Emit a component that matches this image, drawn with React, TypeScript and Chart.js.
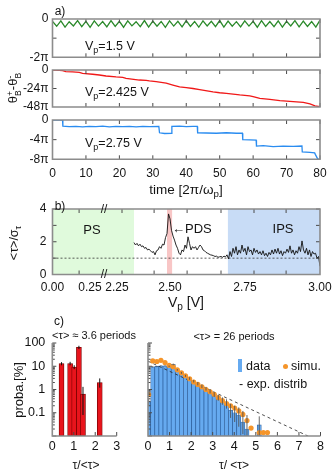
import React, { useEffect, useRef } from 'react';
import { Chart, registerables } from 'chart.js';

Chart.register(...registerables);

const W = 333;
const H = 473;
const SANS = '"Liberation Sans", Arial, Helvetica, sans-serif';
const FRAME_COLOR = '#8c8c8c';
const TICK_COLOR = '#4a4a4a';
const INK = '#141414';

// ---------------- panel a : phase difference (units of pi) ----------------
const timeTicks = [0, 10, 20, 30, 40, 50, 60, 70, 80];
const greenTime = [0, 1.25, 2.5, 3.75, 5, 6.25, 7.5, 8.75, 10, 11.25, 12.5, 13.75, 15, 16.25, 17.5, 18.75, 20, 21.25, 22.5, 23.75, 25, 26.25, 27.5, 28.75, 30, 31.25, 32.5, 33.75, 35, 36.25, 37.5, 38.75, 40, 41.25, 42.5, 43.75, 45, 46.25, 47.5, 48.75, 50, 51.25, 52.5, 53.75, 55, 56.25, 57.5, 58.75, 60, 61.25, 62.5, 63.75, 65, 66.25, 67.5, 68.75, 70, 71.25, 72.5, 73.75, 75, 76.25, 77.5, 78.75, 80];
const greenPhase = [-0.12, -0.38, -0.10, -0.42, -0.14, -0.36, -0.08, -0.40, -0.12, -0.44,
  -0.10, -0.37, -0.13, -0.41, -0.09, -0.39, -0.12, -0.43, -0.10, -0.36,
  -0.14, -0.40, -0.08, -0.42, -0.11, -0.38, -0.13, -0.44, -0.10, -0.37,
  -0.12, -0.41, -0.09, -0.39, -0.13, -0.43, -0.10, -0.36, -0.12, -0.40,
  -0.08, -0.42, -0.11, -0.38, -0.14, -0.41, -0.10, -0.37, -0.12, -0.43,
  -0.09, -0.39, -0.13, -0.40, -0.10, -0.42, -0.12, -0.36, -0.08, -0.41,
  -0.11, -0.39, -0.13, -0.42, -0.06];
const redTime = [0, 2, 3, 4, 6, 8, 9, 12, 14, 16, 19, 21, 22, 26, 28, 29, 31, 34, 36, 38, 40, 42, 44, 48, 50, 52, 56, 59, 60, 62, 65, 68, 70, 72, 75, 77, 78.5, 80];
const redPhase = [0, -0.3, -0.8, -2, -2.5, -3, -4.3, -5.5, -6.5, -7.8, -9, -9.5, -10.8, -13, -13.5, -14.2, -15.2, -17, -19.5, -22, -23, -24, -25.5, -28.5, -29.5, -30.3, -32.4, -33.5, -34.5, -36.8, -38, -39.8, -40.3, -41, -42, -44, -46.5, -47.6];
const blueTime = [0, 3, 3.1, 5, 7, 9, 11, 13, 15, 17, 19, 21, 23, 25, 27, 29, 31.8, 32, 33.5, 35.6, 35.7, 38, 40, 42, 43.3, 43.4, 46, 49, 52, 55, 56.8, 56.9, 59, 60.9, 61, 63, 66, 69, 72, 74.6, 74.7, 77, 78.4, 78.6, 79.3, 80];
const bluePhase = [0, 0, -1.25, -1.35, -1.3, -1.4, -1.3, -1.35, -1.25, -1.4, -1.3, -1.35, -1.3, -1.4, -1.3, -1.35, -1.3, -2.6, -2.75, -2.7, -1.3, -1.25, -1.35, -1.3, -1.3, -2.6, -2.65, -2.7, -2.6, -2.7, -2.7, -4.0, -4.05, -4.1, -5.3, -5.2, -5.4, -5.3, -5.35, -5.3, -6.5, -6.6, -6.7, -7.0, -7.9, -8.0];

// ---------------- panel b : <tau>/sigma vs Vp ----------------
const vpTrace = [2.380, 2.385, 2.390, 2.395, 2.400, 2.405, 2.410, 2.415, 2.420, 2.425,
  2.430, 2.435, 2.440, 2.445, 2.450, 2.455, 2.460, 2.465, 2.470, 2.475,
  2.480, 2.485, 2.490, 2.495, 2.500, 2.505, 2.510, 2.515, 2.520, 2.525,
  2.530, 2.535, 2.540, 2.545, 2.550, 2.555, 2.560, 2.565, 2.570, 2.575,
  2.580, 2.585, 2.590, 2.595, 2.600, 2.605, 2.610, 2.615, 2.620, 2.625,
  2.630, 2.635, 2.640, 2.645, 2.650, 2.655, 2.660, 2.665, 2.670, 2.675,
  2.680, 2.685, 2.690, 2.695, 2.700, 2.705, 2.710, 2.715, 2.720, 2.725,
  2.730, 2.735, 2.740, 2.745, 2.750, 2.755, 2.760, 2.765, 2.770, 2.775,
  2.780, 2.785, 2.790, 2.795, 2.800, 2.805, 2.810, 2.815, 2.820, 2.825,
  2.830, 2.835, 2.840, 2.845, 2.850, 2.855, 2.860, 2.865, 2.870, 2.875,
  2.880, 2.885, 2.890, 2.895, 2.900, 2.905, 2.910, 2.915, 2.920, 2.925,
  2.930, 2.935, 2.940, 2.945, 2.950, 2.955, 2.960, 2.965, 2.970, 2.975,
  2.980, 2.985, 2.990, 2.995, 3.000];
const ratioTrace = [1.95, 1.80, 1.90, 1.75, 1.85, 1.70, 1.75, 1.60, 1.65, 1.50,
  1.55, 1.45, 1.35, 1.40, 1.20, 1.45, 1.50, 1.70, 1.60, 1.85,
  1.80, 2.25, 2.50, 3.70, 3.40, 2.70, 2.35, 2.10, 1.80, 1.60,
  1.30, 1.20, 1.50, 1.40, 1.80, 1.60, 2.30, 1.90, 1.50, 1.70,
  1.60, 1.70, 1.50, 1.65, 1.80, 1.70, 1.50, 1.45, 1.35, 1.30,
  1.25, 1.20, 1.18, 1.15, 1.10, 1.12, 1.05, 1.08, 1.10, 1.05,
  1.12, 1.08, 1.20, 0.95, 1.40,
  1.10, 1.60, 1.30, 1.70, 1.20, 1.50, 1.30, 1.80, 1.40, 1.60,
  1.20, 1.70, 1.40, 1.50, 1.20, 1.60, 1.35, 1.50, 1.25, 1.40,
  1.20, 1.45, 1.15, 1.30, 1.10, 1.35, 1.20, 1.50, 1.25, 1.55,
  1.30, 1.60, 1.25, 1.45, 1.15, 1.40, 1.30, 1.55, 1.35, 1.75,
  1.30, 1.50, 1.20, 1.45, 1.30, 1.70, 1.40, 2.05, 1.50, 1.30,
  1.60, 1.20, 1.50, 1.10, 1.40, 1.25, 1.30, 1.00, 1.10, 0.50];
const vpAxisMin = 2.1083;
const psRange = [2.1083, 2.38];
const pdsRange = [2.49, 2.507];
const ipsRange = [2.693, 3.0];
const vpLabelPos = [2.1083, 2.2333, 2.3233, 2.5, 2.75, 3.0];
const vpLabelText = ['0.00', '0.25', '2.25', '2.50', '2.75', '3.00'];
const vpTickPos = [2.197, 2.34, 2.447, 2.557, 2.67, 2.78, 2.887];
const ratioTicks = [0, 1, 2, 3, 4];
const ratioLabels = [0, 2, 4];

// ---------------- panel c : histograms ----------------
const redTau = [0.43, 0.83, 1.02, 1.24, 1.43, 2.21];
const redProba = [13, 13, 9.3, 65, 0.64, 2.0];
const redErrLo = [11, 11, 7.5, 55, 0.08, 1.2];
const redErrHi = [15, 15.5, 11, 76, 1.3, 3.0];

const binTau = [0.03, 0.22, 0.41, 0.60, 0.79, 0.98, 1.17, 1.36, 1.55, 1.74, 1.93, 2.12, 2.31, 2.50, 2.69, 2.88, 3.07, 3.26, 3.45, 3.64, 3.83, 4.02, 4.21, 4.40, 4.59, 4.78, 4.97, 5.16, 5.35, 5.54];
const dataProba = [0.3, 9.5, 9.8, 10.5, 10.5, 10, 12, 7, 5.2, 3.9, 3.0, 2.3, 1.8, 1.4, 1.1, 0.85, 0.62, 0.45, 0.33, 0.25, 0.13, 0.1, 0.08, 0.04, 0.02, null, null, 0.03, null, null];
const dataErrLo = [0.2, 8.8, 9.1, 9.8, 9.8, 9.3, 11, 6.4, 4.7, 3.5, 2.6, 2.0, 1.5, 1.15, 0.9, 0.68, 0.48, 0.33, 0.22, 0.15, 0.06, 0.04, 0.025, 0.012, 0.01, null, null, 0.01, null, null];
const dataErrHi = [0.4, 10.2, 10.5, 11.2, 11.2, 10.7, 13, 7.6, 5.7, 4.3, 3.4, 2.6, 2.1, 1.65, 1.3, 1.05, 0.78, 0.6, 0.46, 0.38, 0.24, 0.2, 0.17, 0.12, 0.08, null, null, 0.07, null, null];
const simuProba = [0.6, 17, 16, 18, 14.5, 11, 9.5, 7, 5.2, 3.9, 2.9, 2.1, 1.65, 1.3, 1.0, 0.8, 0.62, 0.45, 0.33, 0.25, 0.2, 0.16, 0.12, 0.085, 0.046, 0.022, null, 0.014, 0.014, 0.014];
const expTau = [0, 7.5];
const expProba = [16.5, 0.0092];
const probaMin = 0.01;
const probaMax = 100;
const probaMajor = [0.01, 0.1, 1, 10, 100];
const probaLabels = [{ v: 100, t: '100' }, { v: 10, t: '10' }, { v: 1, t: '1' }, { v: 0.1, t: '0.1' }];

const probaMinor: number[] = [];
for (const d of [0.01, 0.1, 1, 10]) for (let k = 2; k <= 9; k++) probaMinor.push(d * k);

// ---------------- helpers ----------------
type Area = { l: number; r: number; t: number; b: number };

interface FrameCfg {
  box: boolean;
  xTicks?: number[];
  yTicks?: number[];
  yMinor?: number[];
  xLabels?: { v: number; t: string }[];
  yLabels?: { v: number; t: string }[];
  xLabelDy?: number;
  yLabelDx?: number;
  labelFont?: string;
  regions?: { from: number; to: number; color: string }[];
  refY?: number;
  errors?: { x: number[]; lo: (number | null)[]; hi: (number | null)[]; color: string; width: number }[];
}

function framePlugin(cfg: FrameCfg) {
  return {
    id: 'frame',
    beforeDatasetsDraw(chart: any) {
      const { ctx, chartArea: a, scales } = chart;
      const xs = scales.x, ys = scales.y;
      ctx.save();
      for (const r of cfg.regions || []) {
        const x0 = xs.getPixelForValue(r.from), x1 = xs.getPixelForValue(r.to);
        ctx.fillStyle = r.color;
        ctx.fillRect(x0, a.top, x1 - x0, a.bottom - a.top);
      }
      if (cfg.refY !== undefined) {
        const py = ys.getPixelForValue(cfg.refY);
        ctx.strokeStyle = '#333';
        ctx.lineWidth = 0.8;
        ctx.setLineDash([2, 2]);
        ctx.beginPath();
        ctx.moveTo(a.left, py);
        ctx.lineTo(a.right, py);
        ctx.stroke();
      }
      ctx.restore();
    },
    afterDatasetsDraw(chart: any) {
      const { ctx, chartArea: a, scales } = chart;
      const xs = scales.x, ys = scales.y;
      ctx.save();
      // error bars
      for (const e of cfg.errors || []) {
        ctx.strokeStyle = e.color;
        ctx.lineWidth = e.width;
        ctx.beginPath();
        e.x.forEach((xv, i) => {
          const lo = e.lo[i], hi = e.hi[i];
          if (lo == null || hi == null) return;
          const px = xs.getPixelForValue(xv);
          ctx.moveTo(px, ys.getPixelForValue(lo));
          ctx.lineTo(px, ys.getPixelForValue(hi));
        });
        ctx.stroke();
      }
      // ticks
      const L = 4;
      ctx.strokeStyle = TICK_COLOR;
      ctx.lineWidth = 1;
      ctx.beginPath();
      for (const v of cfg.xTicks || []) {
        const px = xs.getPixelForValue(v);
        ctx.moveTo(px, a.bottom);
        ctx.lineTo(px, a.bottom - L);
        if (cfg.box) {
          ctx.moveTo(px, a.top);
          ctx.lineTo(px, a.top + L);
        }
      }
      for (const v of cfg.yTicks || []) {
        const py = ys.getPixelForValue(v);
        ctx.moveTo(a.left, py);
        ctx.lineTo(a.left + L, py);
        if (cfg.box) {
          ctx.moveTo(a.right, py);
          ctx.lineTo(a.right - L, py);
        }
      }
      for (const v of cfg.yMinor || []) {
        const py = ys.getPixelForValue(v);
        ctx.moveTo(a.left, py);
        ctx.lineTo(a.left + 2.5, py);
      }
      ctx.stroke();
      // frame
      ctx.strokeStyle = FRAME_COLOR;
      ctx.lineWidth = 1.6;
      ctx.beginPath();
      if (cfg.box) {
        ctx.rect(a.left, a.top, a.right - a.left, a.bottom - a.top);
      } else {
        ctx.moveTo(a.left, a.top);
        ctx.lineTo(a.left, a.bottom);
        ctx.lineTo(a.right, a.bottom);
      }
      ctx.stroke();
      // labels
      ctx.fillStyle = INK;
      ctx.font = cfg.labelFont || `11.5px ${SANS}`;
      ctx.textBaseline = 'middle';
      ctx.textAlign = 'center';
      for (const l of cfg.xLabels || []) {
        ctx.fillText(l.t, xs.getPixelForValue(l.v), a.bottom + (cfg.xLabelDy ?? 13));
      }
      ctx.textAlign = 'right';
      for (const l of cfg.yLabels || []) {
        ctx.fillText(l.t, a.left - (cfg.yLabelDx ?? 4), ys.getPixelForValue(l.v));
      }
      ctx.restore();
    },
  };
}

function baseOptions(area: Area, xMin: number, xMax: number, yMin: number, yMax: number, yType = 'linear') {
  return {
    responsive: false,
    maintainAspectRatio: false,
    animation: false,
    events: [],
    layout: { padding: { left: area.l, top: area.t, right: W - area.r, bottom: H - area.b } },
    plugins: { legend: { display: false }, tooltip: { enabled: false }, title: { display: false } },
    scales: {
      x: { type: 'linear', display: false, min: xMin, max: xMax, offset: false },
      y: { type: yType, display: false, min: yMin, max: yMax },
    },
  };
}

const pts = (xs: number[], ys: (number | null)[]) =>
  xs.map((x, i) => ({ x, y: ys[i] })).filter((p) => p.y !== null && p.y !== undefined);

function ChartLayer({ make }: { make: () => any }) {
  const ref = useRef<HTMLCanvasElement | null>(null);
  useEffect(() => {
    const chart = new Chart(ref.current as HTMLCanvasElement, make());
    return () => chart.destroy();
  }, []);
  return (
    <canvas
      ref={ref}
      width={W}
      height={H}
      style={{ position: 'absolute', left: 0, top: 0, width: W, height: H }}
    />
  );
}

const xL = 52.5, xR = 320;

function phasePanel(area: Area, time: number[], phase: number[], color: string, yMin: number, yTicks: number[], yLabels: { v: number; t: string }[], withX: boolean) {
  return () => ({
    type: 'line',
    data: {
      datasets: [{
        data: pts(time, phase),
        borderColor: color,
        borderWidth: 1.3,
        pointRadius: 0,
        tension: 0,
      }],
    },
    options: baseOptions(area, 0, 80, yMin, 0),
    plugins: [framePlugin({
      box: true,
      xTicks: timeTicks,
      yTicks,
      yLabels,
      yLabelDx: 4,
      xLabels: withX ? timeTicks.map((v) => ({ v, t: String(v) })) : [],
      xLabelDy: 14,
      labelFont: `12px ${SANS}`,
    })],
  });
}

const makeA1 = phasePanel({ l: xL, r: xR, t: 19, b: 57.3 }, greenTime, greenPhase, '#2b8a2b', -2, [-1],
  [{ v: 0, t: '0' }, { v: -2, t: '-2\u03c0' }], false);
const makeA2 = phasePanel({ l: xL, r: xR, t: 70, b: 107 }, redTime, redPhase, '#f01818', -48, [-24],
  [{ v: 0, t: '0' }, { v: -24, t: '-24\u03c0' }, { v: -48, t: '-48\u03c0' }], false);
const makeA3 = phasePanel({ l: xL, r: xR, t: 120, b: 159.3 }, blueTime, bluePhase, '#2a8cf0', -8, [-4],
  [{ v: 0, t: '0' }, { v: -4, t: '-4\u03c0' }, { v: -8, t: '-8\u03c0' }], true);

const makeB = () => ({
  type: 'line',
  data: {
    datasets: [{
      data: pts(vpTrace, ratioTrace),
      borderColor: '#111',
      borderWidth: 0.9,
      pointRadius: 0,
      tension: 0,
    }],
  },
  options: baseOptions({ l: xL, r: xR, t: 209, b: 274.5 }, vpAxisMin, 3.0, 0, 4),
  plugins: [framePlugin({
    box: true,
    xTicks: vpTickPos,
    yTicks: ratioTicks,
    yLabels: ratioLabels.map((v) => ({ v, t: String(v) })),
    yLabelDx: 6,
    xLabels: vpLabelPos.map((v, i) => ({ v, t: vpLabelText[i] })),
    xLabelDy: 13.5,
    labelFont: `12px ${SANS}`,
    regions: [
      { from: psRange[0], to: psRange[1], color: '#e0fadc' },
      { from: pdsRange[0], to: pdsRange[1], color: '#f8c6c6' },
      { from: ipsRange[0], to: ipsRange[1], color: '#c8dcf6' },
    ],
    refY: 1,
  })],
});

const makeCL = () => ({
  type: 'bar',
  data: {
    datasets: [{
      data: redTau.map((x, i) => ({ x, y: [probaMin, redProba[i]] })),
      backgroundColor: '#e8141c',
      borderColor: '#7a0000',
      borderWidth: 0.8,
      borderSkipped: false,
      barThickness: 5,
    }],
  },
  options: baseOptions({ l: 52.3, r: 116.7, t: 343, b: 436 }, 0, 3, probaMin, probaMax, 'logarithmic'),
  plugins: [framePlugin({
    box: false,
    xTicks: [1, 2, 3],
    yTicks: probaMajor,
    yMinor: probaMinor,
    xLabels: [0, 1, 2, 3].map((v) => ({ v, t: String(v) })),
    xLabelDy: 11,
    yLabels: probaLabels,
    yLabelDx: 7,
    labelFont: `12.5px ${SANS}`,
    errors: [{ x: redTau, lo: redErrLo, hi: redErrHi, color: '#111', width: 1 }],
  })],
});

const makeCR = () => ({
  type: 'bar',
  data: {
    datasets: [
      {
        type: 'line',
        order: 0,
        data: pts(binTau, simuProba),
        showLine: false,
        pointRadius: 2.6,
        pointBackgroundColor: '#f5952a',
        pointBorderWidth: 0,
      },
      {
        type: 'line',
        order: 1,
        data: pts(expTau, expProba),
        borderColor: '#222',
        borderWidth: 0.8,
        borderDash: [3, 3],
        pointRadius: 0,
      },
      {
        type: 'bar',
        order: 2,
        data: binTau
          .map((x, i) => ({ x, v: dataProba[i] }))
          .filter((p) => p.v !== null)
          .map((p) => ({ x: p.x, y: [probaMin, p.v as number] })),
        backgroundColor: '#66aaf0',
        borderColor: '#2d5f9c',
        borderWidth: 0.7,
        borderSkipped: false,
        barThickness: 4.1,
      },
    ],
  },
  options: baseOptions({ l: 148, r: 320.5, t: 343, b: 436 }, 0, 8, probaMin, probaMax, 'logarithmic'),
  plugins: [framePlugin({
    box: false,
    xTicks: [1, 2, 3, 4, 5, 6, 7, 8],
    yTicks: probaMajor,
    yMinor: probaMinor,
    xLabels: [0, 1, 2, 3, 4, 5, 6, 7, 8].map((v) => ({ v, t: String(v) })),
    xLabelDy: 11,
    labelFont: `12.5px ${SANS}`,
    errors: [{ x: binTau, lo: dataErrLo, hi: dataErrHi, color: '#555', width: 0.9 }],
  })],
});

// ---------------- text overlays ----------------
function T(props: { x: number; y: number; size?: number; left?: boolean; rot?: boolean; children: any; italic?: boolean }) {
  const { x, y, size = 12, left = false, rot = false, children, italic } = props;
  return (
    <div
      style={{
        position: 'absolute',
        left: x,
        top: y,
        font: `${italic ? 'italic ' : ''}${size}px ${SANS}`,
        lineHeight: 1,
        whiteSpace: 'nowrap',
        color: INK,
        transform: `translate(${left ? '0' : '-50%'}, -50%)${rot ? ' rotate(-90deg)' : ''}`,
      }}
    >
      {children}
    </div>
  );
}

const Sub = ({ children }: { children: any }) => (
  <span style={{ fontSize: '0.72em', position: 'relative', top: '0.32em' }}>{children}</span>
);

const Stack = ({ top, bottom }: { top: string; bottom: string }) => (
  <span style={{ display: 'inline-flex', flexDirection: 'column', fontSize: '0.66em', lineHeight: 0.95, verticalAlign: 'middle', textAlign: 'left' }}>
    <span>{top}</span>
    <span>{bottom}</span>
  </span>
);

export default function App() {
  return (
    <div style={{ position: 'fixed', left: 0, top: 0, width: W, height: H, background: '#fff', overflow: 'hidden' }}>
      <ChartLayer make={makeA1} />
      <ChartLayer make={makeA2} />
      <ChartLayer make={makeA3} />
      <ChartLayer make={makeB} />
      <ChartLayer make={makeCL} />
      <ChartLayer make={makeCR} />

      <T x={60} y={11}>a)</T>
      <T x={85} y={46} size={12.5} left>V<Sub>p</Sub>=1.5 V</T>
      <T x={85} y={92} size={12.5} left>V<Sub>p</Sub>=2.425 V</T>
      <T x={85} y={143} size={12.5} left>V<Sub>p</Sub>=2.75 V</T>
      <T x={14} y={88} size={13} rot>
        {'\u03b8'}<Stack top="+" bottom="B" />-{'\u03b8'}<Stack top="-" bottom="B" />
      </T>
      <T x={186} y={190} size={13.5}>time [2{'\u03c0'}/{'\u03c9'}<Sub>p</Sub>]</T>

      <T x={60} y={206}>b)</T>
      <T x={104} y={209} size={12}>//</T>
      <T x={104} y={274} size={12}>//</T>
      <T x={92} y={229} size={13}>PS</T>
      <T x={172} y={228} size={13} left>{'\u2190'}PDS</T>
      <T x={283} y={228} size={13}>IPS</T>
      <T x={14} y={243} size={12.5} rot>{'<\u03c4>/\u03c3'}<Sub>{'\u03c4'}</Sub></T>
      <T x={186} y={302} size={14}>V<Sub>p</Sub> [V]</T>

      <T x={59} y={321}>c)</T>
      <T x={94} y={335} size={11}>{'<\u03c4> \u2248 3.6 periods'}</T>
      <T x={234} y={336} size={11}>{'<\u03c4> = 26 periods'}</T>
      <T x={18} y={390} size={13} rot>proba.[%]</T>
      <T x={86} y={465} size={12}>{'\u03c4/<\u03c4>'}</T>
      <T x={234} y={465} size={12}>{'\u03c4/ <\u03c4>'}</T>

      <div style={{ position: 'absolute', left: 238, top: 359, width: 4, height: 13, background: '#66aaf0' }} />
      <T x={246} y={366} size={12.5} left>data</T>
      <div style={{ position: 'absolute', left: 282.5, top: 363.5, width: 5, height: 5, borderRadius: 3, background: '#f5952a' }} />
      <T x={291} y={366} size={12.5} left>simu.</T>
      <T x={239} y={384} size={12.5} left>- exp. distrib</T>
    </div>
  );
}
